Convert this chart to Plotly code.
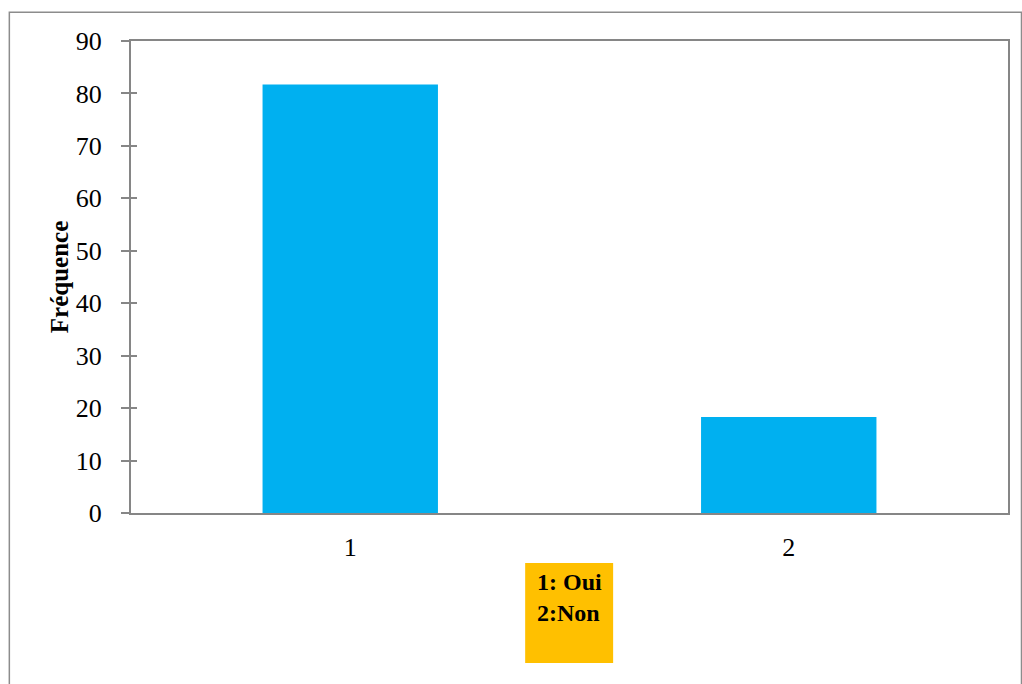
import plotly.graph_objects as go

categories = ["1", "2"]
frequence = [81.7, 18.3]
y_ticks = [0, 10, 20, 30, 40, 50, 60, 70, 80, 90]
legend_lines = ["1: Oui", "2:Non"]

W, H = 1022, 684
L, R, T, B = 130.7, 1008, 40.7, 513

def px(x):
    return (x - L) / (R - L)

def py(y):
    return (B - y) / (B - T)

fig = go.Figure()
fig.add_trace(go.Bar(x=categories, y=frequence, marker=dict(color="#00B0F0", line=dict(width=0)),
                     width=0.4, showlegend=False))
fig.add_trace(go.Scatter(x=categories, y=[None, None], yaxis="y2", showlegend=False, hoverinfo="skip"))

font = "Liberation Serif, Times New Roman, serif"
axcol = "#868686"

fig.update_layout(
    width=W, height=H,
    margin=dict(l=L, r=W - R, t=T, b=H - B, autoexpand=False),
    paper_bgcolor="white", plot_bgcolor="white",
    font=dict(family=font, size=26, color="black"),
    xaxis=dict(type="category", range=[-0.5, 1.5], showline=True, linecolor=axcol, linewidth=2,
               mirror=True, ticks="", showgrid=False, tickfont=dict(size=26), ticklabelstandoff=10),
    yaxis=dict(range=[0, 90], tickvals=y_ticks, showline=True, linecolor=axcol, linewidth=2,
               mirror=True, ticks="outside", ticklen=8, tickcolor=axcol, tickwidth=2,
               showgrid=False, zeroline=False, tickfont=dict(size=26), ticklabelstandoff=14,
               title=dict(text="<b>Fréquence</b>", font=dict(size=25), standoff=0)),
    yaxis2=dict(range=[0, 90], tickvals=y_ticks, overlaying="y", side="left", showline=False,
                ticks="inside", ticklen=6, tickcolor=axcol, tickwidth=2, showticklabels=False,
                showgrid=False, zeroline=False),
)

# outer border
fig.add_shape(type="rect", xref="paper", yref="paper",
              x0=px(9), x1=px(1021.5), y0=py(700), y1=py(12),
              line=dict(color="#8c8c8c", width=1.5), fillcolor="rgba(0,0,0,0)", layer="below")
# legend box
fig.add_shape(type="rect", xref="paper", yref="paper",
              x0=px(525), x1=px(613), y0=py(663), y1=py(563),
              line=dict(width=0), fillcolor="#FFC000")
fig.add_annotation(xref="paper", yref="paper", x=px(535), y=py(567), xanchor="left", yanchor="top",
                   align="left", showarrow=False,
                   text="<br>".join(f"<b>{t}</b>" for t in legend_lines),
                   font=dict(family=font, size=24, color="black"))

fig.write_html("out.html")
